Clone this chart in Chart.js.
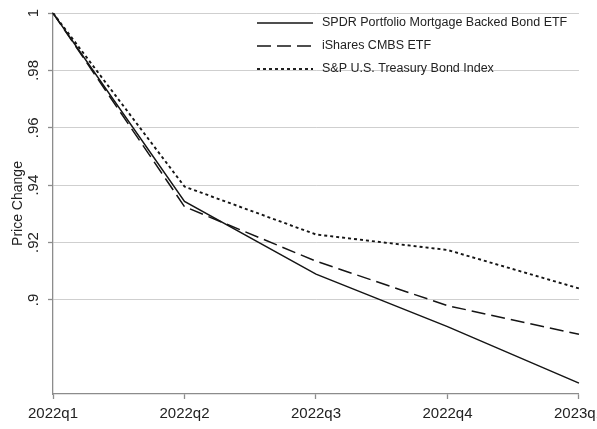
<!DOCTYPE html>
<html>
<head>
<meta charset="utf-8">
<script src="https://cdn.jsdelivr.net/npm/chart.js@4.4.0/dist/chart.umd.min.js"></script>
<style>
  html, body { margin: 0; padding: 0; background: #fff; overflow: hidden; }
  #wrap { width: 610px; height: 429px; }
</style>
</head>
<body>
<div id="wrap"><canvas id="priceChart"></canvas></div>
<script>
// valores
const quarters = ['2022q1', '2022q2', '2022q3', '2022q4', '2023q1'];
const spdrMbs = [1, 0.9343, 0.9090, 0.8907, 0.8710];
const ishCmbs = [1, 0.9325, 0.9135, 0.8980, 0.8880];
const spTreasury = [1, 0.9395, 0.9228, 0.9174, 0.9040];
const yTicks = [0.9, 0.92, 0.94, 0.96, 0.98, 1];

const FONT = "'Liberation Sans', Arial, sans-serif";
const AXIS = '#8c8c8c';

// legenda dentro da área do gráfico
const innerLegend = {
    id: 'innerLegend',
    afterDraw(chart) {
        const { ctx, chartArea } = chart;
        const x0 = chartArea.left + 204;
        ctx.save();
        ctx.font = '12.5px ' + FONT;
        ctx.fillStyle = '#222';
        ctx.textBaseline = 'middle';
        chart.data.datasets.forEach((ds, i) => {
            const y = chartArea.top + 10 + i * 23;
            ctx.beginPath();
            ctx.strokeStyle = ds.borderColor;
            ctx.lineWidth = ds.borderWidth;
            ctx.setLineDash(ds.borderDash || []);
            ctx.moveTo(x0, y);
            ctx.lineTo(x0 + 56, y);
            ctx.stroke();
            ctx.fillText(ds.label, x0 + 65, y);
        });
        ctx.restore();
    }
};

const ctx = document.getElementById('priceChart').getContext('2d');

new Chart(ctx, {
    type: 'line',
    data: {
        labels: quarters,
        datasets: [{
            label: 'SPDR Portfolio Mortgage Backed Bond ETF',
            data: spdrMbs,
            borderColor: '#151515',
            borderWidth: 1.5,
            borderDash: []
        }, {
            label: 'iShares CMBS ETF',
            data: ishCmbs,
            borderColor: '#151515',
            borderWidth: 1.5,
            borderDash: [14, 6]
        }, {
            label: 'S&P U.S. Treasury Bond Index',
            data: spTreasury,
            borderColor: '#151515',
            borderWidth: 1.9,
            borderDash: [3, 3]
        }]
    },
    options: {
        responsive: true,
        maintainAspectRatio: false,
        animation: false,
        elements: { point: { radius: 0 }, line: { tension: 0 } },
        layout: { padding: { top: 13, left: 0, bottom: 0, right: 0 } },
        plugins: { legend: { display: false }, tooltip: { enabled: false } },
        scales: {
            x: {
                type: 'category',
                offset: false,
                border: { color: AXIS, width: 1.3 },
                grid: { drawOnChartArea: false, tickLength: 5, tickColor: AXIS, tickWidth: 1.3 },
                ticks: {
                    color: '#222', font: { family: FONT, size: 15 },
                    padding: 6, maxRotation: 0, autoSkip: false
                },
                afterFit: s => { s.height = 35; }
            },
            y: {
                min: 0.8672,
                max: 1,
                border: { color: AXIS, width: 1.3 },
                grid: {
                    color: '#cfcfcf', lineWidth: 1, borderDash: [1, 3],
                    tickLength: 5, tickColor: AXIS, tickWidth: 1.3, tickBorderDash: []
                },
                afterBuildTicks: s => { s.ticks = yTicks.map(v => ({ value: v })); },
                ticks: {
                    color: '#222', font: { family: FONT, size: 15 },
                    minRotation: 90, maxRotation: 90, crossAlign: 'center', padding: 4,
                    callback: v => String(+v.toFixed(2)).replace(/^0\./, '.')
                },
                title: {
                    display: true, text: 'Price Change', color: '#222',
                    font: { family: FONT, size: 14 }, padding: { top: 10, bottom: 0 }
                },
                afterFit: s => { s.width = 53; }
            }
        }
    },
    plugins: [innerLegend]
});
</script>
</body>
</html>
